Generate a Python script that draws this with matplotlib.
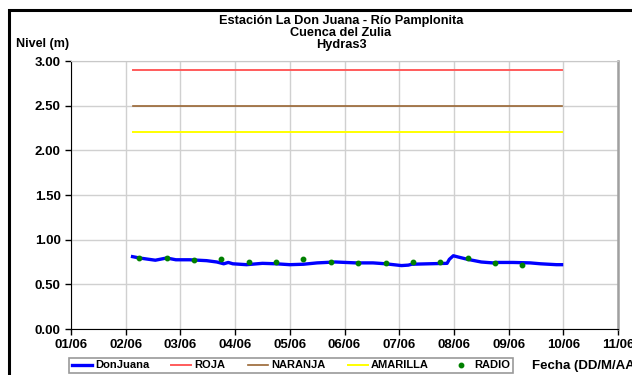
import pandas as pd
import matplotlib
matplotlib.use('Agg')
import matplotlib.pyplot as plt
import matplotlib.dates as mdates
from matplotlib.patches import Rectangle

plt.rcParams['font.family'] = ['Liberation Sans', 'DejaVu Sans']
plt.rcParams['font.weight'] = 'bold'

# serie de nivel (m) estación DonJuana
fechas_nivel = ['2020-06-02 03:00', '2020-06-02 06:00', '2020-06-02 13:00', '2020-06-02 18:00',
                '2020-06-02 22:00', '2020-06-03 04:00', '2020-06-03 11:30', '2020-06-03 16:00',
                '2020-06-03 19:00', '2020-06-03 21:00', '2020-06-03 23:00', '2020-06-04 05:00',
                '2020-06-04 12:00', '2020-06-04 18:00', '2020-06-05 00:00', '2020-06-05 06:00',
                '2020-06-05 12:00', '2020-06-05 20:00', '2020-06-06 05:00', '2020-06-06 12:30',
                '2020-06-06 18:00', '2020-06-07 01:00', '2020-06-07 04:00', '2020-06-07 05:30',
                '2020-06-07 13:00', '2020-06-07 21:00', '2020-06-07 22:00', '2020-06-07 23:45',
                '2020-06-08 02:00', '2020-06-08 06:00', '2020-06-08 12:00', '2020-06-08 17:00',
                '2020-06-08 18:45', '2020-06-09 02:00', '2020-06-09 09:30', '2020-06-09 14:00',
                '2020-06-09 21:00', '2020-06-09 23:15']
nivel = [0.81, 0.795, 0.77, 0.795, 0.775, 0.775, 0.765, 0.75,
         0.73, 0.745, 0.73, 0.72, 0.735, 0.73, 0.72, 0.725,
         0.74, 0.75, 0.74, 0.74, 0.73, 0.71, 0.715, 0.725,
         0.73, 0.735, 0.78, 0.82, 0.805, 0.78, 0.75, 0.74,
         0.745, 0.745, 0.74, 0.73, 0.72, 0.72]

# lecturas por radio
fechas_radio = ['2020-06-02 06:00', '2020-06-02 18:00', '2020-06-03 06:00', '2020-06-03 18:00',
                '2020-06-04 06:00', '2020-06-04 18:00', '2020-06-05 06:00', '2020-06-05 18:00',
                '2020-06-06 06:00', '2020-06-06 18:00', '2020-06-07 06:00', '2020-06-07 18:00',
                '2020-06-08 06:00', '2020-06-08 18:00', '2020-06-09 06:00']
radio = [0.795, 0.80, 0.775, 0.78, 0.755, 0.755, 0.78, 0.745,
         0.735, 0.735, 0.755, 0.755, 0.80, 0.735, 0.715]

# umbrales de alerta
fechas_umbral = ['2020-06-02 03:00', '2020-06-09 23:30']
umbral_roja = 2.90
umbral_naranja = 2.50
umbral_amarilla = 2.20

t_nivel = pd.to_datetime(fechas_nivel)
t_radio = pd.to_datetime(fechas_radio)
t_umbral = pd.to_datetime(fechas_umbral)

fig = plt.figure(figsize=(6.32, 3.75), dpi=100)
ax = fig.add_axes([71 / 632, 1 - 329 / 375, (618 - 71) / 632, (329 - 61) / 375])

ax.plot(t_nivel, nivel, color='#0000FF', lw=2.4, label='DonJuana', zorder=4)
ax.plot(t_umbral, [umbral_roja] * 2, color='#FF5B5B', lw=1.4, label='ROJA')
ax.plot(t_umbral, [umbral_naranja] * 2, color='#996633', lw=1.2, label='NARANJA')
ax.plot(t_umbral, [umbral_amarilla] * 2, color='#FFFF00', lw=1.4, label='AMARILLA')
ax.plot(t_radio, radio, ls='none', marker='o', ms=3.2, color='#008000', label='RADIO', zorder=5)

ax.set_ylim(0, 3)
ax.set_yticks([0, 0.5, 1.0, 1.5, 2.0, 2.5, 3.0])
ax.yaxis.set_major_formatter(matplotlib.ticker.FormatStrFormatter('%.2f'))
ax.set_xlim(pd.Timestamp('2020-06-01'), pd.Timestamp('2020-06-11'))
ax.xaxis.set_major_locator(mdates.DayLocator())
ax.xaxis.set_major_formatter(mdates.DateFormatter('%d/%m'))

ax.grid(True, color='#D0D0D0', lw=1)
ax.set_axisbelow(True)
ax.tick_params(axis='both', direction='out', length=4, width=1, color='black', labelsize=9.5)
ax.tick_params(axis='x', pad=3)
for lab in ax.get_xticklabels() + ax.get_yticklabels():
    lab.set_fontweight('bold')
ax.spines['left'].set_color('black')
ax.spines['bottom'].set_color('black')
ax.spines['top'].set_color('#C8C8C8')
ax.spines['right'].set_color('#A0A0A0')
ax.spines['right'].set_linewidth(1.8)

fig.text(341 / 632, 1 - 33 / 375, 'Estación La Don Juana - Río Pamplonita\nCuenca del Zulia\nHydras3',
         ha='center', va='center', fontsize=9.2, fontweight='bold', linespacing=0.95)
fig.text(16 / 632, 1 - 44 / 375, 'Nivel (m)', ha='left', va='center', fontsize=9, fontweight='bold')
fig.text(532 / 632, 1 - 366 / 375, 'Fecha (DD/M/AA)', ha='left', va='center', fontsize=9.5,
         fontweight='bold')

leg = fig.legend(loc='center', bbox_to_anchor=(291 / 632, 1 - 365.5 / 375), ncol=5, fontsize=8,
                 frameon=True, fancybox=False, edgecolor='#808080', handlelength=1.8,
                 handletextpad=0.3, columnspacing=2.0, borderpad=0.25)
leg.get_frame().set_linewidth(1.2)
for txt in leg.get_texts():
    txt.set_fontweight('bold')

fig.patches.append(Rectangle((8.5 / 632, -0.1), 1.2, 1 - 9.5 / 375 + 0.1, transform=fig.transFigure,
                             fill=False, edgecolor='black', lw=2.2))

fig.savefig('out.png', dpi=100)
